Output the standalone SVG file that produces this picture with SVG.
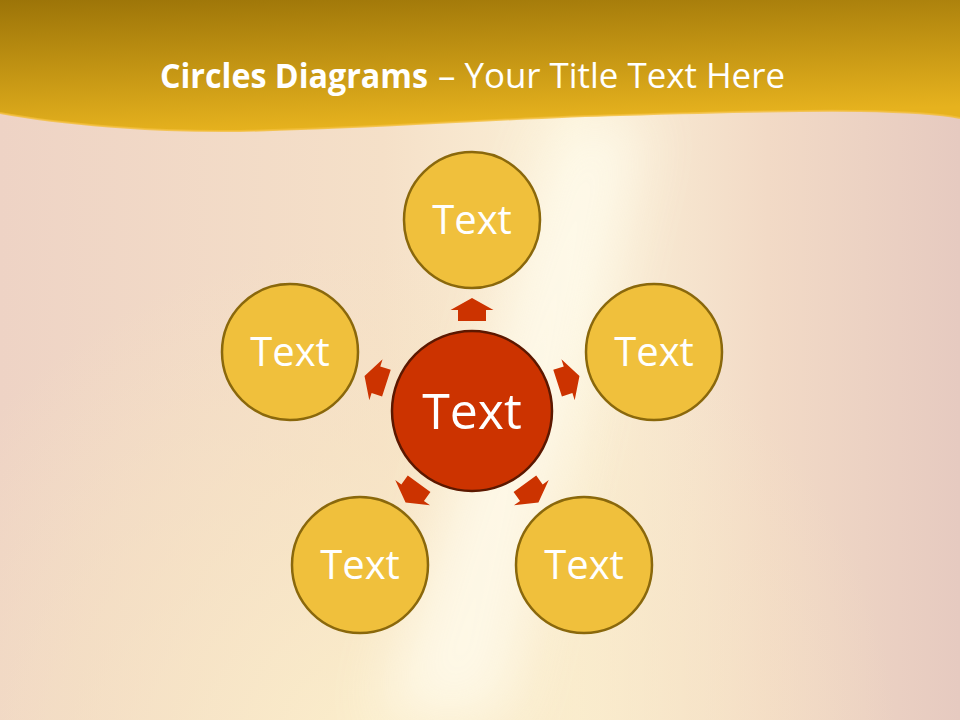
<svg xmlns="http://www.w3.org/2000/svg" width="960" height="720" viewBox="0 0 960 720">
  <defs>
    <linearGradient id="bgH" x1="0" y1="0" x2="1" y2="0">
      <stop offset="0" stop-color="#EED3C5"/>
      <stop offset="0.4" stop-color="#F5E0C8"/>
      <stop offset="0.6" stop-color="#FBF1D8"/>
      <stop offset="0.8" stop-color="#F2DAC6"/>
      <stop offset="1" stop-color="#E6CAC0"/>
    </linearGradient>
    <radialGradient id="warm" cx="380" cy="760" r="520" gradientUnits="userSpaceOnUse">
      <stop offset="0" stop-color="#FCF0CC" stop-opacity="0.9"/>
      <stop offset="0.6" stop-color="#F8E6C4" stop-opacity="0.5"/>
      <stop offset="1" stop-color="#F8E6C4" stop-opacity="0"/>
    </radialGradient>
    <linearGradient id="hdr" x1="0" y1="0" x2="0.25" y2="1">
      <stop offset="0" stop-color="#9C7408"/>
      <stop offset="1" stop-color="#E6B21E"/>
    </linearGradient>
    <filter id="blur" x="-50%" y="-20%" width="200%" height="140%">
      <feGaussianBlur stdDeviation="30"/>
    </filter>
    <style>
      .outer { fill: #F0C03C; stroke: #8A680C; stroke-width: 2.5; }
      .center { fill: #CC3300; stroke: #5C1800; stroke-width: 2.5; }
      .lbl { font-family: "Open Sans", "DejaVu Sans", sans-serif; fill: #FFFFFF; text-anchor: middle; }
      .arrow { fill: #CC3300; }
      .title { font-family: "Open Sans", "Liberation Sans", sans-serif; fill: #FFFFFF; font-size: 34px; }
    </style>
  </defs>

  <!-- background -->
  <rect x="0" y="0" width="960" height="720" fill="url(#bgH)"/>
  <rect x="0" y="0" width="960" height="720" fill="url(#warm)"/>
  <path d="M560,120 L645,120 L505,720 L380,720 Z" fill="#FFFCEE" opacity="0.8" filter="url(#blur)"/>

  <!-- header -->
  <path d="M0,0 H960 V118 C945,115 920,112 860,111 C800,110 720,112 620,115 C500,118 380,128 240,131 C150,132 60,124 0,113 Z" fill="url(#hdr)"/>
  <path d="M0,113 C60,124 150,132 240,131 C380,128 500,118 620,115 C720,112 800,110 860,111 C920,112 945,115 960,118" fill="none" stroke="#F2BE3A" stroke-width="2" opacity="0.8"/>
  <text class="title" x="160" y="88" font-weight="bold" textLength="268" lengthAdjust="spacingAndGlyphs">Circles Diagrams</text>
  <text class="title" x="438" y="88" textLength="347" lengthAdjust="spacingAndGlyphs">– Your Title Text Here</text>

  <!-- connectors -->
  <g id="connectors">
    <path class="arrow" transform="translate(472,411) rotate(0)" d="M0,-113 L21.5,-101 L14,-101 L14,-90 L-14,-90 L-14,-101 L-21.5,-101 Z"/>
    <path class="arrow" transform="translate(472,411) rotate(72)" d="M0,-113 L21.5,-101 L14,-101 L14,-90 L-14,-90 L-14,-101 L-21.5,-101 Z"/>
    <path class="arrow" transform="translate(472,411) rotate(144)" d="M0,-113 L21.5,-101 L14,-101 L14,-90 L-14,-90 L-14,-101 L-21.5,-101 Z"/>
    <path class="arrow" transform="translate(472,411) rotate(216)" d="M0,-113 L21.5,-101 L14,-101 L14,-90 L-14,-90 L-14,-101 L-21.5,-101 Z"/>
    <path class="arrow" transform="translate(472,411) rotate(288)" d="M0,-113 L21.5,-101 L14,-101 L14,-90 L-14,-90 L-14,-101 L-21.5,-101 Z"/>
  </g>

  <!-- nodes -->
  <g id="node-center">
    <circle class="center" cx="472" cy="411" r="80"/>
    <text class="lbl" x="472" y="429" font-size="50">Text</text>
  </g>
  <g id="node-top">
    <circle class="outer" cx="472" cy="220" r="68"/>
    <text class="lbl" x="472" y="234" font-size="40">Text</text>
  </g>
  <g id="node-left">
    <circle class="outer" cx="290" cy="352" r="68"/>
    <text class="lbl" x="290" y="366" font-size="40">Text</text>
  </g>
  <g id="node-right">
    <circle class="outer" cx="654" cy="352" r="68"/>
    <text class="lbl" x="654" y="366" font-size="40">Text</text>
  </g>
  <g id="node-bottom-left">
    <circle class="outer" cx="360" cy="565" r="68"/>
    <text class="lbl" x="360" y="579" font-size="40">Text</text>
  </g>
  <g id="node-bottom-right">
    <circle class="outer" cx="584" cy="565" r="68"/>
    <text class="lbl" x="584" y="579" font-size="40">Text</text>
  </g>
</svg>
